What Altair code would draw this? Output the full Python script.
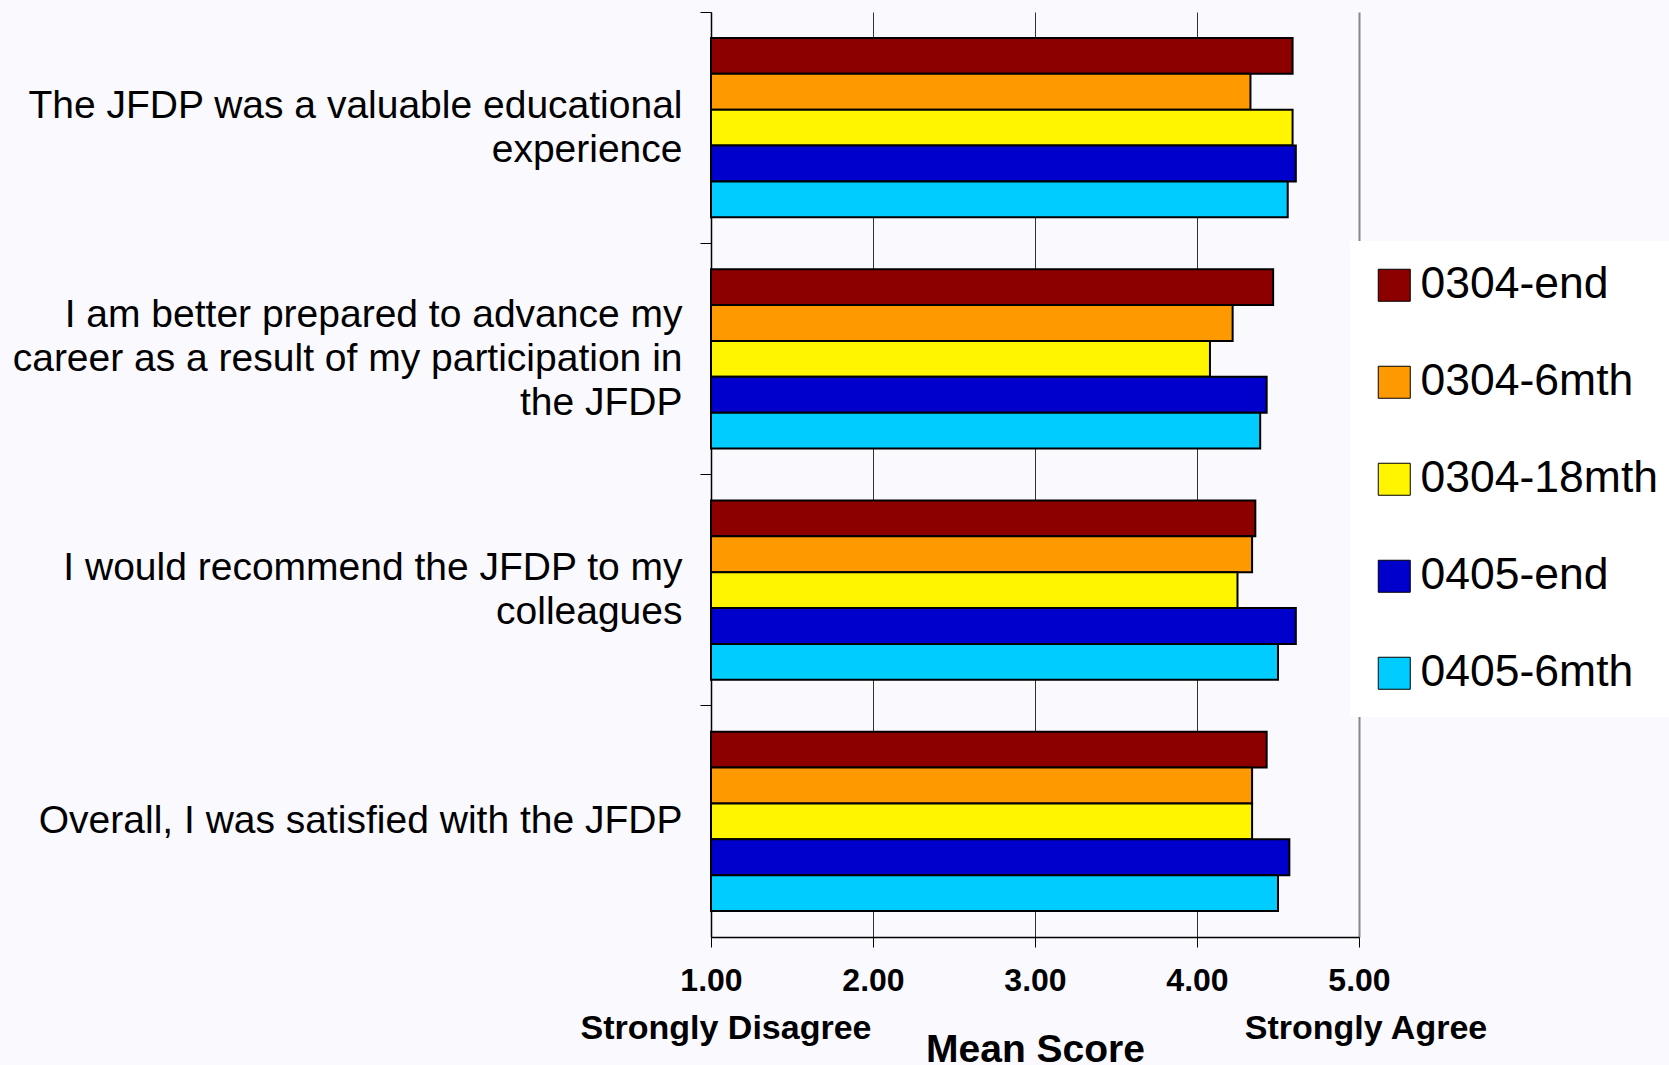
import altair as alt
import pandas as pd

categories = [
    "The JFDP was a valuable educational\nexperience",
    "I am better prepared to advance my\ncareer as a result of my participation in\nthe JFDP",
    "I would recommend the JFDP to my\ncolleagues",
    "Overall, I was satisfied with the JFDP",
]
series = ["0304-end", "0304-6mth", "0304-18mth", "0405-end", "0405-6mth"]
colors = ["#8C0000", "#FF9900", "#FFF500", "#0000CC", "#00CCFF"]

v_0304_end = [4.59, 4.47, 4.36, 4.43]
v_0304_6mth = [4.33, 4.22, 4.34, 4.34]
v_0304_18mth = [4.59, 4.08, 4.25, 4.34]
v_0405_end = [4.61, 4.43, 4.61, 4.57]
v_0405_6mth = [4.56, 4.39, 4.50, 4.50]

tick_values = [1, 2, 3, 4, 5]
anchor_values = [1, 5]
anchor_labels = ["Strongly Disagree", "Strongly Agree"]

values = [v_0304_end, v_0304_6mth, v_0304_18mth, v_0405_end, v_0405_6mth]
rows = []
for s, vals in zip(series, values):
    for c, v in zip(categories, vals):
        rows.append({"question": c, "group": s, "score": v})
df = pd.DataFrame(rows)
anchors = pd.DataFrame({"x": anchor_values, "label": anchor_labels})

FONT = "Arial, Liberation Sans"
LH = 44
P_IN = 0.225
P_OUT = 0.1125
nlines = "length(split(datum.value, '\\n'))"

bars = alt.Chart(df).mark_bar(stroke="black", strokeWidth=2).encode(
    y=alt.Y(
        "question:N",
        sort=categories,
        scale=alt.Scale(paddingInner=P_IN, paddingOuter=P_OUT),
        axis=alt.Axis(
            title=None,
            labelExpr="split(datum.label, '\\n')",
            labelFontSize=39,
            labelFont=FONT,
            labelColor="black",
            labelLineHeight=LH,
            labelLimit=900,
            labelPadding=18,
            labelOffset={
                "condition": [
                    {"test": nlines + " == 3", "value": -LH},
                    {"test": nlines + " == 2", "value": -LH / 2},
                ],
                "value": 0,
            },
            bandPosition=-(P_IN / 2) / (1 - P_IN),
            tickSize=11,
            tickColor="black",
            domainColor="black",
            domainWidth=1.5,
            grid=False,
        ),
    ),
    yOffset=alt.YOffset("group:N", sort=series, scale=alt.Scale(paddingInner=0, paddingOuter=0)),
    x=alt.X(
        "score:Q",
        scale=alt.Scale(domain=[1, 5], nice=False, zero=False),
        axis=alt.Axis(
            title="Mean Score",
            titleFontSize=39,
            titleFont=FONT,
            titleFontWeight="bold",
            titleColor="black",
            titlePadding=34,
            values=tick_values,
            format=".2f",
            labelFlush=False,
            labelFontSize=32,
            labelFont=FONT,
            labelFontWeight="bold",
            labelColor="black",
            labelPadding=18,
            tickSize=10,
            tickColor="black",
            domainColor="black",
            domainWidth=1.5,
            grid=True,
            gridColor={"condition": {"test": "datum.value === 5", "value": "#888888"}, "value": "#333333"},
            gridWidth={"condition": {"test": "datum.value === 5", "value": 2}, "value": 1},
        ),
    ),
    x2=alt.datum(1),
    color=alt.Color(
        "group:N",
        sort=series,
        scale=alt.Scale(domain=series, range=colors),
        legend=alt.Legend(
            title=None,
            orient="none",
            legendX=639,
            legendY=229,
            fillColor="white",
            padding=22,
            symbolType="square",
            symbolSize=1024,
            symbolStrokeColor="black",
            symbolStrokeWidth=1,
            symbolOpacity=1,
            labelFontSize=44.5,
            labelFont=FONT,
            labelColor="black",
            labelOffset=4,
            rowPadding=52,
            labelLimit=400,
        ),
    ),
)

left_txt = alt.Chart(anchors).transform_filter("datum.x === 1").mark_text(
    fontSize=34, font=FONT, fontWeight="bold", color="black", baseline="middle", align="center", dx=15
).encode(x=alt.X("x:Q"), y=alt.value(1017), text="label:N")

right_txt = alt.Chart(anchors).transform_filter("datum.x === 5").mark_text(
    fontSize=34, font=FONT, fontWeight="bold", color="black", baseline="middle", align="center", dx=7
).encode(x=alt.X("x:Q"), y=alt.value(1017), text="label:N")

chart = alt.layer(bars, left_txt, right_txt).properties(
    width=648,
    height=925,
    autosize=alt.AutoSizeParams(type="none"),
    padding={"left": 711, "top": 12, "right": 310, "bottom": 128},
    background="#f9f9fe",
).configure_view(stroke=None)

chart.save("out.html", embed_options={"renderer": "svg", "actions": False})
